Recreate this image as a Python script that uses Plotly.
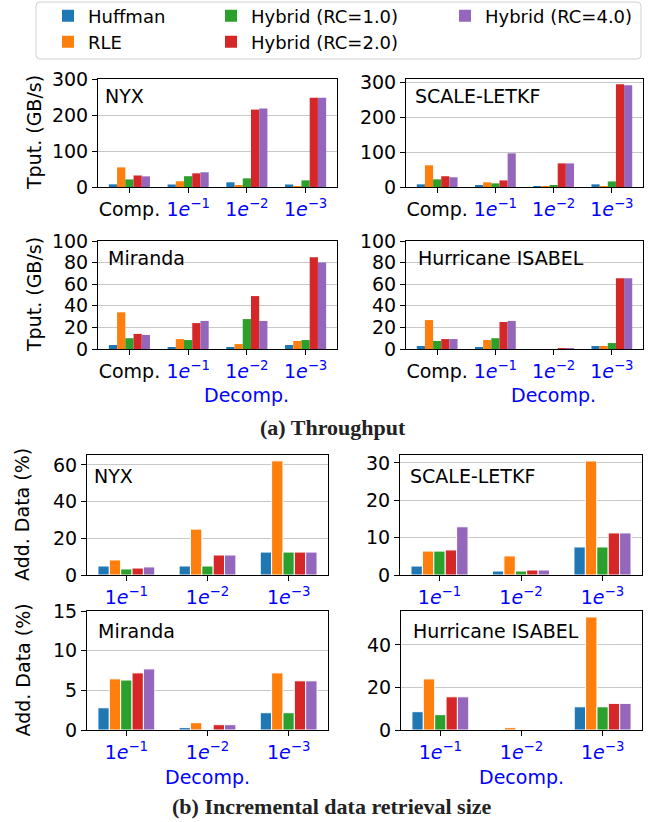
import plotly.graph_objects as go

W, H = 649, 822

SERIES = ["Huffman", "RLE", "Hybrid (RC=1.0)", "Hybrid (RC=2.0)", "Hybrid (RC=4.0)"]
COLORS = ["#1f77b4", "#ff7f0e", "#2ca02c", "#d62728", "#9467bd"]

TPUT_CATS = ["Comp.", "1e-1", "1e-2", "1e-3"]
ADD_CATS = ["1e-1", "1e-2", "1e-3"]


def eb(n):
    return "<span style='color:#0000ff'>1<i>e</i><sup>\u2212%d</sup></span>" % n


TPUT_TICKS = ["Comp.", eb(1), eb(2), eb(3)]
ADD_TICKS = [eb(1), eb(2), eb(3)]

# Throughput (GB/s): rows = series (Huffman, RLE, RC=1, RC=2, RC=4), cols = categories
NYX_TPUT = [
    [7.4, 7, 13, 7],
    [54.5, 16, 4.6, 2],
    [21, 30, 24, 18.5],
    [32, 38, 215, 248],
    [29.5, 41, 218, 248],
]
SCALE_TPUT = [
    [7.7, 5, 2, 7.7],
    [62.5, 13.5, 2, 2],
    [22, 10.5, 5, 16],
    [31, 19, 68, 296],
    [28, 97, 68, 293],
]
MIRANDA_TPUT = [
    [3.7, 1.8, 1.8, 3.7],
    [34, 9.2, 4.6, 7.4],
    [10, 8.3, 27.7, 8.3],
    [14, 24, 49, 85],
    [13, 26, 26, 80],
]
ISABEL_TPUT = [
    [2.8, 1.8, 0, 2.8],
    [26.8, 8.3, 0, 2.8],
    [7.4, 10, 0, 5.5],
    [9.2, 25, 0.5, 65.5],
    [9.2, 26, 0.5, 65.5],
]

# Additional data (%)
NYX_ADD = [
    [4.9, 4.9, 12.5],
    [8.2, 25, 62.2],
    [3.3, 4.9, 12.5],
    [3.8, 10.9, 12.5],
    [4.4, 10.9, 12.5],
]
SCALE_ADD = [
    [2.4, 1.07, 7.5],
    [6.4, 5.1, 30.5],
    [6.4, 1.07, 7.5],
    [6.7, 1.34, 11.25],
    [12.9, 1.34, 11.25],
]
MIRANDA_ADD = [
    [2.8, 0.3, 2.18],
    [6.45, 0.92, 7.2],
    [6.3, 0, 2.18],
    [7.2, 0.67, 6.2],
    [7.7, 0.67, 6.2],
]
ISABEL_ADD = [
    [8.6, 0, 10.9],
    [24, 1.1, 53.1],
    [7.2, 0, 10.9],
    [15.6, 0, 12.5],
    [15.6, 0, 12.5],
]

FONT = "DejaVu Sans"
FS = 19

# name, data, cats, ticks, yticks, yrange, box px (x0, x1, y0, y1), label px, ytitle, decomp, edge
PANELS = [
    ("NYX", NYX_TPUT, TPUT_CATS, TPUT_TICKS, [0, 100, 200, 300], [0, 300],
     (98, 337, 79, 187), (103, 96), "Tput. (GB/s)", False, False),
    ("SCALE-LETKF", SCALE_TPUT, TPUT_CATS, TPUT_TICKS, [0, 100, 200, 300], [0, 311],
     (406, 643, 79, 187), (413, 96), None, False, False),
    ("Miranda", MIRANDA_TPUT, TPUT_CATS, TPUT_TICKS, [0, 20, 40, 60, 80, 100], [0, 100],
     (98, 337, 241, 349), (106, 258), "Tput. (GB/s)", True, False),
    ("Hurricane ISABEL", ISABEL_TPUT, TPUT_CATS, TPUT_TICKS, [0, 20, 40, 60, 80, 100], [0, 100],
     (406, 643, 241, 349), (416, 258), None, True, False),
    ("NYX", NYX_ADD, ADD_CATS, ADD_TICKS, [0, 20, 40, 60], [0, 65.4],
     (87, 328, 455, 575), (92, 476), "Add. Data (%)", False, True),
    ("SCALE-LETKF", SCALE_ADD, ADD_CATS, ADD_TICKS, [0, 10, 20, 30], [0, 32.1],
     (400, 642, 455, 575), (408, 476), None, False, True),
    ("Miranda", MIRANDA_ADD, ADD_CATS, ADD_TICKS, [0, 5, 10, 15], [0, 15],
     (87, 328, 611, 730), (96, 631), "Add. Data (%)", True, True),
    ("Hurricane ISABEL", ISABEL_ADD, ADD_CATS, ADD_TICKS, [0, 20, 40], [0, 55.9],
     (401, 642, 611, 730), (411, 631), None, True, True),
]

fig = go.Figure()
layout = dict(
    width=W, height=H, margin=dict(l=0, r=0, t=0, b=0, autoexpand=False),
    paper_bgcolor="white", plot_bgcolor="white",
    barmode="group", bargap=0.3, bargroupgap=0,
    font=dict(family=FONT, size=FS, color="black"),
)
annotations = []

LEGEND_POS = [(95, 16), (95, 42), (258, 16), (258, 42), (492, 16)]

for i, (name, data, cats, ticks, yt, yr, box, lab, ytitle, decomp, edge) in enumerate(PANELS):
    k = "" if i == 0 else str(i + 1)
    xa, ya = "x" + k, "y" + k
    n = len(cats)
    xs = list(range(n))
    for s, (sname, col) in enumerate(zip(SERIES, COLORS)):
        tr = dict(
            x=xs, y=data[s], name=sname, xaxis=xa, yaxis=ya,
            marker=dict(color=col, line=dict(color="white", width=1 if edge else 0)),
            legendgroup=sname, showlegend=(i == 0),
            hovertemplate="%{y}<extra>" + sname + "</extra>",
        )
        if i == 0:
            tr["legend"] = "legend" if s == 0 else "legend%d" % (s + 1)
        fig.add_trace(go.Bar(**tr))
    x0, x1, y0, y1 = box
    margin = 0.05 * (n - 1 + 0.7)
    layout["xaxis" + k] = dict(
        domain=[x0 / W, x1 / W], anchor=ya,
        range=[-0.35 - margin, n - 1 + 0.35 + margin],
        tickmode="array", tickvals=xs, ticktext=ticks,
        showline=True, linecolor="black", linewidth=1, mirror=True,
        ticks="outside", ticklen=5, tickwidth=1, tickcolor="black",
        showgrid=False, zeroline=False, fixedrange=True,
        tickfont=dict(family=FONT, size=FS, color="black"),
    )
    layout["yaxis" + k] = dict(
        domain=[1 - y1 / H, 1 - y0 / H], anchor=xa,
        range=yr, tickmode="array", tickvals=yt,
        showline=True, linecolor="black", linewidth=1, mirror=True,
        ticks="outside", ticklen=5, tickwidth=1, tickcolor="black",
        showgrid=True, gridcolor="#c8c8c8", gridwidth=1.3,
        zeroline=False, fixedrange=True,
        tickfont=dict(family=FONT, size=FS, color="black"),
    )
    annotations.append(dict(
        text=name, x=lab[0] / W, y=1 - lab[1] / H, xref="paper", yref="paper",
        xanchor="left", yanchor="middle", showarrow=False,
        font=dict(family=FONT, size=FS, color="black"),
    ))
    if ytitle:
        annotations.append(dict(
            text=ytitle, x=(34 if ytitle.startswith("Tput") else 22) / W,
            y=1 - (y0 + y1) / 2 / H, xref="paper", yref="paper",
            xanchor="center", yanchor="middle", textangle=-90, showarrow=False,
            font=dict(family=FONT, size=FS, color="black"),
        ))
    if decomp:
        dx = 2 if n == 4 else 1
        dy = 395 if n == 4 else 777
        annotations.append(dict(
            text="Decomp.", x=dx, xref=xa, y=1 - dy / H, yref="paper",
            xanchor="center", yanchor="middle", showarrow=False,
            font=dict(family=FONT, size=FS, color="#0000ff"),
        ))

annotations.append(dict(
    text="<b>(a) Throughput</b>", x=333 / W, y=1 - 427 / H, xref="paper", yref="paper",
    xanchor="center", yanchor="middle", showarrow=False,
    font=dict(family="Liberation Serif", size=22, color="#222222"),
))
annotations.append(dict(
    text="<b>(b) Incremental data retrieval size</b>", x=332 / W, y=1 - 806 / H,
    xref="paper", yref="paper", xanchor="center", yanchor="middle", showarrow=False,
    font=dict(family="Liberation Serif", size=22, color="#222222"),
))
layout["annotations"] = annotations

for s, (lx, ly) in enumerate(LEGEND_POS):
    key = "legend" if s == 0 else "legend%d" % (s + 1)
    layout[key] = dict(
        x=(lx - 47) / W, y=1 - ly / H, xanchor="left", yanchor="middle",
        xref="paper", yref="paper", bgcolor="rgba(0,0,0,0)", borderwidth=0,
        font=dict(family=FONT, size=18, color="black"), orientation="v",
    )

# legend frame with rounded corners
bx0, bx1, by0, by1, r = 36, 641, 2, 59, 4
def px(x):
    return x / W
def py(y):
    return 1 - y / H
path = (
    f"M {px(bx0 + r)},{py(by0)} L {px(bx1 - r)},{py(by0)} "
    f"Q {px(bx1)},{py(by0)} {px(bx1)},{py(by0 + r)} L {px(bx1)},{py(by1 - r)} "
    f"Q {px(bx1)},{py(by1)} {px(bx1 - r)},{py(by1)} L {px(bx0 + r)},{py(by1)} "
    f"Q {px(bx0)},{py(by1)} {px(bx0)},{py(by1 - r)} L {px(bx0)},{py(by0 + r)} "
    f"Q {px(bx0)},{py(by0)} {px(bx0 + r)},{py(by0)} Z"
)
layout["shapes"] = [dict(type="path", path=path, xref="paper", yref="paper",
                         line=dict(color="#d0d0d0", width=1), fillcolor="rgba(255,255,255,0.8)",
                         layer="below")]

fig.update_layout(**layout)
fig.write_html(
    "out.html",
    config={"displayModeBar": False},
    post_script="document.body.style.margin='0';document.body.style.padding='0';"
                "document.body.style.overflow='hidden';",
)
